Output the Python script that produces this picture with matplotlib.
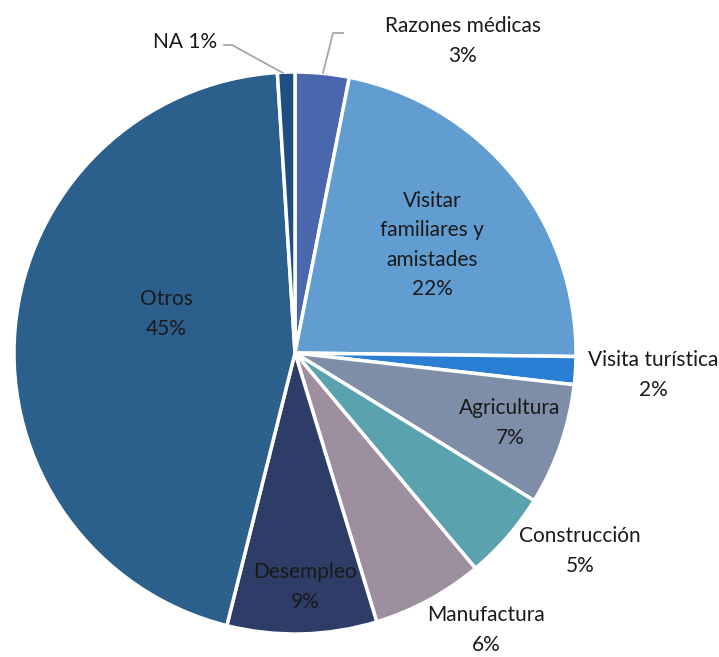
import matplotlib
matplotlib.use('Agg')
import matplotlib.pyplot as plt

labels = ['Razones médicas', 'Visitar\nfamiliares y\namistades', 'Visita turística',
          'Agricultura', 'Construcción', 'Manufactura', 'Desempleo', 'Otros', 'NA']
values = [3.1, 22.1, 1.6, 7.0, 5.1, 6.4, 8.6, 45.1, 1.0]
colors = ['#4a67ae', '#619dd0', '#2a7fd4', '#7f8ea8', '#5aa3ae',
          '#9e8fa0', '#2d3d68', '#2b5f8c', '#1f4e80']

plt.rcParams['font.family'] = ['Lato', 'DejaVu Sans']

W, H = 719, 657
fig = plt.figure(figsize=(W / 100, H / 100), dpi=100)
cx, cy, r = 295, 353, 281
ax = fig.add_axes([(cx - r) / W, (H - cy - r) / H, 2 * r / W, 2 * r / H])
ax.pie(values, colors=colors, startangle=90, counterclock=False, radius=1,
       wedgeprops=dict(edgecolor='white', linewidth=2.5))
ax.set_xlim(-1, 1)
ax.set_ylim(-1, 1)
ax.set_aspect('equal')
ax.axis('off')

def px(x, y):
    return ((x - cx) / r, (cy - y) / r)

# label anchor points (pixels in the original picture)
label_pos = [(463, 41), (432, 245), (653, 375), (510, 423), (580, 551),
             (486, 630), (305, 587), (166, 314), (185, 42)]
for lab, v, (x, y) in zip(labels, values, label_pos):
    if lab == 'NA':
        txt = f'{lab} {v:.0f}%'
    else:
        txt = f'{lab}\n{v:.0f}%'
    ax.text(*px(x, y), txt, ha='center', va='center', fontsize=15,
            color='#1a1a1a', linespacing=1.6, clip_on=False)

# leader lines
gray = '#a6a6a6'
ax.plot(*zip(px(224, 45), px(232, 45), px(283, 73)), color=gray, lw=1.3, clip_on=False)
ax.plot(*zip(px(343, 33), px(333, 33), px(323, 73)), color=gray, lw=1.3, clip_on=False)

fig.savefig('out.png', dpi=100, facecolor='white')
